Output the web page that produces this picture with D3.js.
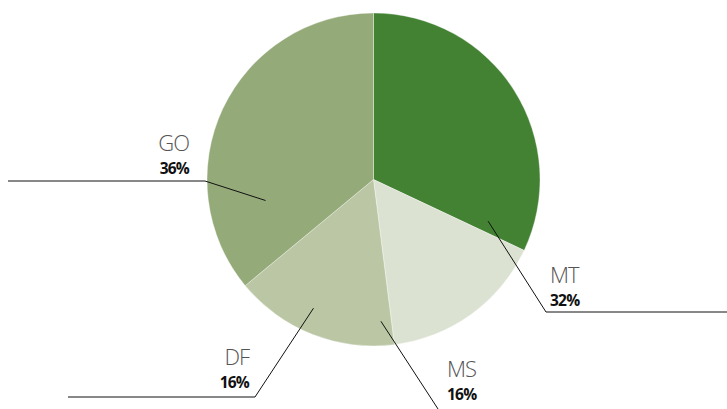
<!DOCTYPE html>
<html>
<head>
<meta charset="utf-8">
<script src="https://cdn.jsdelivr.net/npm/d3@7"></script>
<style>
  html, body { margin: 0; padding: 0; background: #fff; }
  svg { display: block; }
</style>
</head>
<body>
<svg id="chart" width="727" height="409"></svg>
<script>
// Share of the total by state
const categories = ["MT", "MS", "DF", "GO"];
const values = [32, 16, 16, 36];
const valueLabels = ["32%", "16%", "16%", "36%"];
const colors = ["#438133", "#dbe2d1", "#bac6a4", "#95aa79"];

// Callout layout: inner point (polar, around the pie centre), elbow, tail end, text anchor
const callouts = [
  { angle: 110, r: 122, elbow: [546, 312], tailX: 727, text: [550, 283], anchor: "start" },
  { angle: 177, r: 142, elbow: [440, 412], tailX: null, text: [447, 377], anchor: "start" },
  { angle: 205, r: 142, elbow: [255, 397], tailX: 68,  text: [249, 365], anchor: "end" },
  { angle: 259, r: 110, elbow: [205, 181], tailX: 8,   text: [189, 151], anchor: "end" }
];

const svg = d3.select("#chart");
const cx = 373.5, cy = 179.5, radius = 166.5;

const pie = d3.pie().sort(null).value(d => d.value);
const arc = d3.arc().innerRadius(0).outerRadius(radius);
const data = categories.map((c, i) => ({ name: c, value: values[i], label: valueLabels[i], color: colors[i] }));
const arcs = pie(data);

const g = svg.append("g").attr("transform", `translate(${cx},${cy})`);
g.selectAll("path")
  .data(arcs)
  .join("path")
  .attr("d", arc)
  .attr("fill", d => d.data.color)
  .attr("stroke", "#ffffff")
  .attr("stroke-opacity", 0.45)
  .attr("stroke-width", 0.8);

// Leader lines and labels
const lines = svg.append("g");
arcs.forEach((a, i) => {
  const c = callouts[i];
  const t = c.angle * Math.PI / 180;
  const p0 = [cx + c.r * Math.sin(t), cy - c.r * Math.cos(t)];
  const pts = [p0, c.elbow];
  if (c.tailX !== null) pts.push([c.tailX, c.elbow[1]]);
  lines.append("path")
    .attr("d", d3.line()(pts))
    .attr("fill", "none")
    .attr("stroke", "#111")
    .attr("stroke-width", 1);

  svg.append("text")
    .attr("x", c.text[0])
    .attr("y", c.text[1])
    .attr("text-anchor", c.anchor)
    .attr("font-family", "'Open Sans', 'Noto Sans', sans-serif")
    .attr("font-weight", 300)
    .attr("font-size", 22)
    .attr("letter-spacing", -1)
    .attr("fill", "#555")
    .text(a.data.name);

  svg.append("text")
    .attr("x", c.text[0])
    .attr("y", c.text[1] + 23)
    .attr("text-anchor", c.anchor)
    .attr("font-family", "'Open Sans', 'Noto Sans', sans-serif")
    .attr("font-weight", 700)
    .attr("font-size", 15.5)
    .attr("letter-spacing", -0.8)
    .attr("fill", "#111")
    .text(a.data.label);
});
</script>
</body>
</html>
